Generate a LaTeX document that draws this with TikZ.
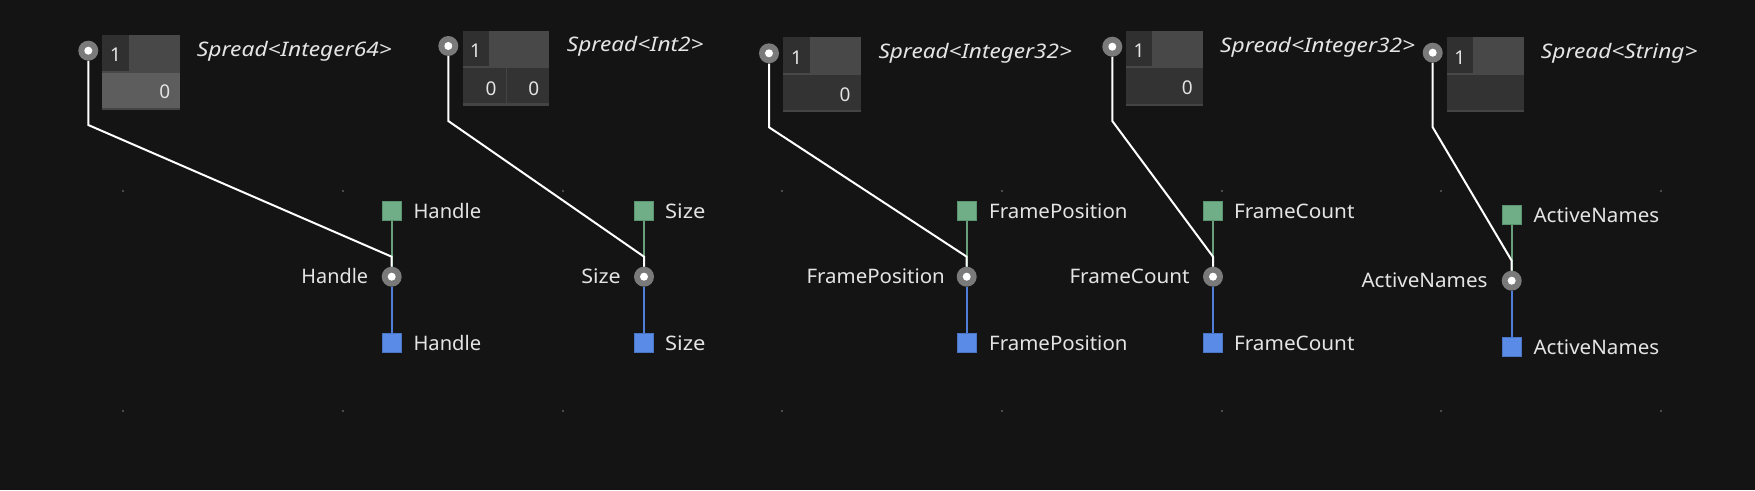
\documentclass[tikz,border=0pt]{standalone}
\usepackage{fontspec}
\setmainfont{Noto Sans}
\usepackage{graphicx}
\definecolor{bg}{HTML}{141414}
\definecolor{boxtop}{HTML}{484848}
\definecolor{cellc}{HTML}{303030}
\definecolor{boxbot}{HTML}{333333}
\definecolor{boxbotlight}{HTML}{5D5D5D}
\definecolor{stripc}{HTML}{444444}
\definecolor{pingray}{HTML}{7A7A7A}
\definecolor{txt}{HTML}{E4E4E4}
\definecolor{sqgreen}{HTML}{6FAE87}
\definecolor{sqgreenb}{HTML}{5B9470}
\definecolor{sqblue}{HTML}{5A8BE6}
\definecolor{sqblueb}{HTML}{4A74C4}
\definecolor{linegreen}{HTML}{6A9F7B}
\definecolor{lineblue}{HTML}{4F7FD8}
\definecolor{dotc}{HTML}{4A4A4A}
\newcommand\fitw[2]{\resizebox{#1}{\height}{#2}}
\begin{document}
\begin{tikzpicture}[x=1pt,y=-1pt,
  pinnode/.style={circle, fill=pingray, minimum size=20pt, inner sep=0pt,
    path picture={\fill[white] (path picture bounding box.center) circle (4pt);}},
  sqg/.style={rectangle, fill=sqgreen, draw=sqgreenb, line width=1pt, minimum width=19pt, minimum height=19pt, inner sep=0pt},
  sqb/.style={rectangle, fill=sqblue, draw=sqblueb, line width=1pt, minimum width=19pt, minimum height=19pt, inner sep=0pt},
  lbl/.style={text=txt, font=\fontsize{20}{24}\selectfont, inner sep=0pt},
  spr/.style={text=txt, font=\fontsize{20}{24}\selectfont\itshape, inner sep=0pt},
  digit/.style={text=txt, font=\fontsize{19}{22}\selectfont, inner sep=0pt},
  wire/.style={white, line width=2pt},
  gline/.style={linegreen, line width=2pt},
  bline/.style={lineblue, line width=2pt}]
\fill[bg] (0,0) rectangle (1755,490);
\useasboundingbox (0,0) rectangle (1755,490);
% grid dots
\foreach \xx in {123,343,563,782,1002,1222,1441,1661}{
  \foreach \yy in {191,411}{
    \fill[dotc] (\xx-1,\yy-1) rectangle (\xx+1,\yy+1);
  }
}
% ---------- Group 1: Handle ----------
\fill[boxtop] (102.3,35) rectangle (180,72.7);
\fill[boxbotlight] (102.3,72.7) rectangle (180,107.7);
\fill[stripc] (102.3,107.7) rectangle (180,110);
\fill[cellc] (102.3,35) rectangle (129,70.7);
\node[digit, anchor=base] (g1one) at (115.5,61.8) {1};
\node[digit, anchor=base east] (g1val) at (170.5,98.5) {0};
\node[spr, anchor=base west] (g1lab) at (196.7,56) {\fitw{195pt}{Spread<Integer64>}};
\node[pinnode] (g1pin) at (88.3,50.7) {};
\node[pinnode] (g1in) at (391.7,276.7) {};
\node[sqg] (g1g) at (391.7,211.2) {};
\node[sqb] (g1b) at (391.7,343) {};
\node[lbl, anchor=base west] (g1gl) at (413.3,218.3) {\fitw{67.7pt}{Handle}};
\node[lbl, anchor=base west] (g1bl) at (413.3,350.1) {\fitw{67.7pt}{Handle}};
\node[lbl, anchor=base east] (g1il) at (368.3,283.8) {\fitw{66.6pt}{Handle}};
\coordinate (g1bend) at (88.3,125);
\coordinate (g1join) at (391.7,256.7);
\draw[gline] (g1in) -- (g1g);
\draw[bline] (g1in) -- (g1b);
\draw[wire] (g1pin) -- (g1bend) -- (g1join) -- (g1in);
% ---------- Group 2: Size ----------
\fill[boxtop] (462.7,31) rectangle (549,68.3);
\fill[boxbot] (462.7,68.3) rectangle (549,103.3);
\fill[stripc] (462.7,103.3) rectangle (549,105.7);
\fill[stripc] (505.5,68.3) rectangle (506.5,103.3);
\fill[cellc] (462.7,31) rectangle (489,65.7);
\node[digit, anchor=base] (g2one) at (475.5,57.8) {1};
\node[digit, anchor=base] (g2va) at (491,95.1) {0};
\node[digit, anchor=base] (g2vb) at (533.7,95.1) {0};
\node[spr, anchor=base west] (g2lab) at (566.7,51.7) {\fitw{136.6pt}{Spread<Int2>}};
\node[pinnode] (g2pin) at (448.3,46) {};
\node[pinnode] (g2in) at (644,276.7) {};
\node[sqg] (g2g) at (644,211.2) {};
\node[sqb] (g2b) at (644,343) {};
\node[lbl, anchor=base west] (g2gl) at (665,218.3) {\fitw{40.3pt}{Size}};
\node[lbl, anchor=base west] (g2bl) at (665,350.1) {\fitw{40.3pt}{Size}};
\node[lbl, anchor=base east] (g2il) at (621,283.8) {\fitw{39.5pt}{Size}};
\coordinate (g2bend) at (448.3,121);
\coordinate (g2join) at (644,256.7);
\draw[gline] (g2in) -- (g2g);
\draw[bline] (g2in) -- (g2b);
\draw[wire] (g2pin) -- (g2bend) -- (g2join) -- (g2in);
% ---------- Group 3: FramePosition ----------
\fill[boxtop] (783.3,37.3) rectangle (860.7,75);
\fill[boxbot] (783.3,75) rectangle (860.7,110);
\fill[stripc] (783.3,110) rectangle (860.7,112.3);
\fill[cellc] (783.3,37.3) rectangle (810,72.7);
\node[digit, anchor=base] (g3one) at (796.5,64.5) {1};
\node[digit, anchor=base] (g3val) at (845,101.1) {0};
\node[spr, anchor=base west] (g3lab) at (878.3,58.4) {\fitw{193.4pt}{Spread<Integer32>}};
\node[pinnode] (g3pin) at (769,53.3) {};
\node[pinnode] (g3in) at (966.7,276.7) {};
\node[sqg] (g3g) at (966.7,211.2) {};
\node[sqb] (g3b) at (966.7,343) {};
\node[lbl, anchor=base west] (g3gl) at (989,218.3) {\fitw{138.3pt}{FramePosition}};
\node[lbl, anchor=base west] (g3bl) at (989,350.1) {\fitw{138.3pt}{FramePosition}};
\node[lbl, anchor=base east] (g3il) at (945,283.8) {\fitw{138.3pt}{FramePosition}};
\coordinate (g3bend) at (769,127.3);
\coordinate (g3join) at (966.7,256.7);
\draw[gline] (g3in) -- (g3g);
\draw[bline] (g3in) -- (g3b);
\draw[wire] (g3pin) -- (g3bend) -- (g3join) -- (g3in);
% ---------- Group 4: FrameCount ----------
\fill[boxtop] (1126,31) rectangle (1202.7,68.3);
\fill[boxbot] (1126,68.3) rectangle (1202.7,103.7);
\fill[stripc] (1126,103.7) rectangle (1202.7,105.7);
\fill[cellc] (1126,31) rectangle (1152.3,66);
\node[digit, anchor=base] (g4one) at (1139,57.8) {1};
\node[digit, anchor=base] (g4val) at (1187.3,94.5) {0};
\node[spr, anchor=base west] (g4lab) at (1220,52.4) {\fitw{195pt}{Spread<Integer32>}};
\node[pinnode] (g4pin) at (1112.3,46.7) {};
\node[pinnode] (g4in) at (1213,276.7) {};
\node[sqg] (g4g) at (1213,211.2) {};
\node[sqb] (g4b) at (1213,343) {};
\node[lbl, anchor=base west] (g4gl) at (1233.8,218.3) {\fitw{120.5pt}{FrameCount}};
\node[lbl, anchor=base west] (g4bl) at (1233.8,350.1) {\fitw{120.5pt}{FrameCount}};
\node[lbl, anchor=base east] (g4il) at (1189.7,283.8) {\fitw{120pt}{FrameCount}};
\coordinate (g4bend) at (1112.3,121);
\coordinate (g4join) at (1213,256.7);
\draw[gline] (g4in) -- (g4g);
\draw[bline] (g4in) -- (g4b);
\draw[wire] (g4pin) -- (g4bend) -- (g4join) -- (g4in);
% ---------- Group 5: ActiveNames ----------
\fill[boxtop] (1446.7,37.3) rectangle (1523.7,75);
\fill[boxbot] (1446.7,75) rectangle (1523.7,110);
\fill[stripc] (1446.7,110) rectangle (1523.7,112.3);
\fill[cellc] (1446.7,37.3) rectangle (1472.7,72.7);
\node[digit, anchor=base] (g5one) at (1459.7,64.5) {1};
\node[spr, anchor=base west] (g5lab) at (1540.7,58.4) {\fitw{156.6pt}{Spread<String>}};
\node[pinnode] (g5pin) at (1432.7,52.7) {};
\node[pinnode] (g5in) at (1511.7,280.7) {};
\node[sqg] (g5g) at (1511.7,215.3) {};
\node[sqb] (g5b) at (1511.7,347.3) {};
\node[lbl, anchor=base west] (g5gl) at (1533.3,222.4) {\fitw{125.7pt}{ActiveNames}};
\node[lbl, anchor=base west] (g5bl) at (1533.3,354.4) {\fitw{125.7pt}{ActiveNames}};
\node[lbl, anchor=base east] (g5il) at (1487.7,287.8) {\fitw{126pt}{ActiveNames}};
\coordinate (g5bend) at (1432.7,127.3);
\coordinate (g5join) at (1511.7,260.7);
\draw[gline] (g5in) -- (g5g);
\draw[bline] (g5in) -- (g5b);
\draw[wire] (g5pin) -- (g5bend) -- (g5join) -- (g5in);
\end{tikzpicture}
\end{document}
